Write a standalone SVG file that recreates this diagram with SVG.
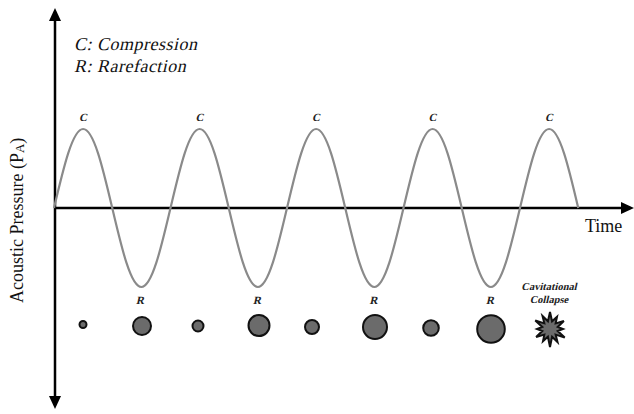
<svg xmlns="http://www.w3.org/2000/svg" width="634" height="414" viewBox="0 0 634 414">
<style>
.axis{stroke:#000;stroke-width:2.5;fill:none}
.head{fill:#000}
.wave{stroke:#8a8a8a;stroke-width:2.2;fill:none}
.bub{fill:#6b6b6b;stroke:#111;stroke-width:2}
.lbl{font-family:"Liberation Serif",serif;font-weight:bold;font-size:11px;fill:#222;text-anchor:middle}
.legend{font-family:"Liberation Serif",serif;font-size:18px;letter-spacing:0.5px;fill:#111}
.ax{font-family:"Liberation Serif",serif;font-size:18px;fill:#111}
.cav{font-family:"Liberation Serif",serif;font-weight:bold;font-size:10.5px;fill:#222;text-anchor:middle}
</style>
<rect width="634" height="414" fill="#fff"/>
<g id="connectors">
  <line class="axis" x1="55" y1="18" x2="55" y2="400"/>
  <polygon class="head" points="55,8 49,21 61,21"/>
  <polygon class="head" points="55,409 49,396 61,396"/>
  <line class="axis" x1="54" y1="208" x2="624" y2="208"/>
  <polygon class="head" points="634,208 621,202 621,214"/>
</g>
<g id="wave">
  <path class="wave" d="M54 208 c9.5 -40.47 18.58 -79 29.125 -79
  s19.625 38.53 29.125 79 s18.58 79 29.125 79 s19.625 -38.53 29.125 -79 s18.58 -79 29.125 -79
  s19.625 38.53 29.125 79 s18.58 79 29.125 79 s19.625 -38.53 29.125 -79 s18.58 -79 29.125 -79
  s19.625 38.53 29.125 79 s18.58 79 29.125 79 s19.625 -38.53 29.125 -79 s18.58 -79 29.125 -79
  s19.625 38.53 29.125 79 s18.58 79 29.125 79 s19.625 -38.53 29.125 -79 s18.58 -79 29.125 -79
  s19.625 38.53 29.125 79"/>
</g>
<g id="labels-c">
  <text class="lbl" transform="translate(83,121) skewX(-13)">C</text>
  <text class="lbl" transform="translate(199.5,121) skewX(-13)">C</text>
  <text class="lbl" transform="translate(316,121) skewX(-13)">C</text>
  <text class="lbl" transform="translate(432.5,121) skewX(-13)">C</text>
  <text class="lbl" transform="translate(549,121) skewX(-13)">C</text>
</g>
<g id="labels-r">
  <text class="lbl" transform="translate(140,304) skewX(-13)">R</text>
  <text class="lbl" transform="translate(257,304) skewX(-13)">R</text>
  <text class="lbl" transform="translate(373.5,304) skewX(-13)">R</text>
  <text class="lbl" transform="translate(490,304) skewX(-13)">R</text>
</g>
<g id="bubbles">
  <circle class="bub" cx="83" cy="324.5" r="3.5"/>
  <circle class="bub" cx="142" cy="326" r="9"/>
  <circle class="bub" cx="198" cy="326" r="5.5"/>
  <circle class="bub" cx="259" cy="325.5" r="10.5"/>
  <circle class="bub" cx="312" cy="327" r="7"/>
  <circle class="bub" cx="375" cy="327" r="12"/>
  <circle class="bub" cx="431" cy="328" r="7.8"/>
  <circle class="bub" cx="491" cy="329" r="13.8"/>
</g>
<g id="collapse">
  <polygon class="bub" stroke-linejoin="miter" points="550,312 552.07,321.27 557,316.88 555.66,323.34 563.86,321 557.73,326.93 563,329 557.73,331.07 564.72,337.5 555.66,334.66 557.5,341.99 552.07,336.73 550,347 547.93,336.73 543,341.12 544.34,334.66 536.14,337 542.27,331.07 537,329 542.27,326.93 535.28,320.5 544.34,323.34 542.5,316.01 547.93,321.27"/>
  <text class="cav" transform="translate(549,290) skewX(-13)">Cavitational</text>
  <text class="cav" transform="translate(549,303) skewX(-13)">Collapse</text>
</g>
<g id="legend">
  <text class="legend" transform="translate(74,50) skewX(-13)">C: Compression</text>
  <text class="legend" transform="translate(74,72) skewX(-13)">R: Rarefaction</text>
</g>
<g id="axis-labels">
  <text class="ax" x="585" y="232">Time</text>
  <text class="ax" font-size="18.5" transform="translate(23,303) rotate(-90)">Acoustic Pressure (P<tspan font-size="13" dy="1">A</tspan><tspan dy="-1">)</tspan></text>
</g>
</svg>
